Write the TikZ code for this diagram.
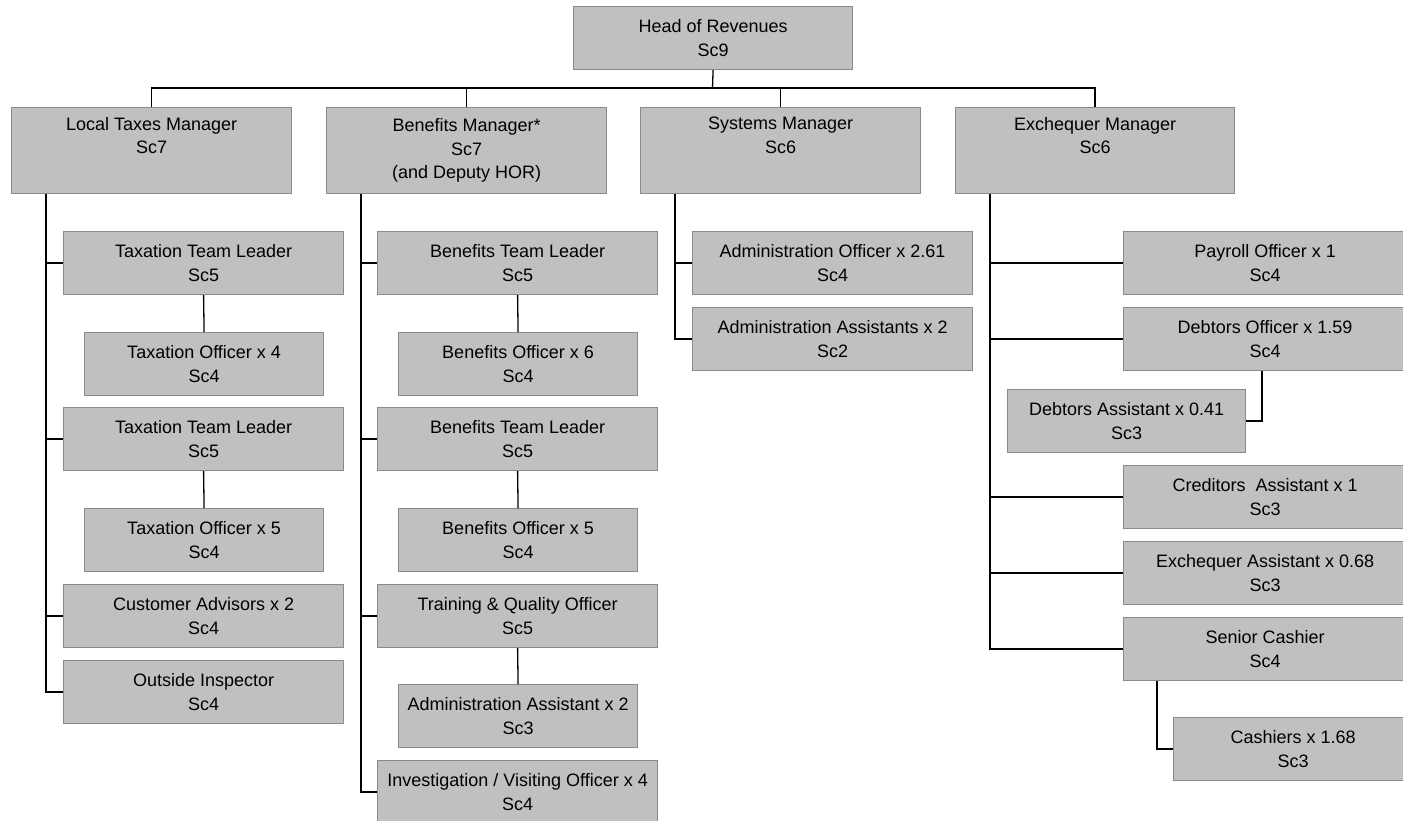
\documentclass[tikz,border=0pt]{standalone}
\usepackage{fontspec}
\setmainfont{Liberation Sans}
\definecolor{boxfill}{HTML}{C0C0C0}
\definecolor{boxline}{HTML}{8A8A8A}
\begin{document}
\begin{tikzpicture}[x=1pt,y=-1pt,
  box/.style={draw=boxline, fill=boxfill, line width=1.2pt, minimum width=280pt, minimum height=63pt,
    inner sep=0pt, align=center, anchor=north west, font=\fontsize{18}{23.5}\selectfont},
  subbox/.style={box, minimum width=239pt},
  edgebox/.style={box, minimum width=283pt},
  mgr/.style={box, minimum height=86pt},
  link/.style={draw=black, line width=1.3pt}]
\useasboundingbox (0,0) rectangle (1403,820);

% top
\node[box, minimum width=279pt] (head) at (573,6) {Head of Revenues\\Sc9};
\node[mgr] (ltm) at (11,107) {Local Taxes Manager\\Sc7\\\strut};
\node[mgr] (bm) at (326,107) {Benefits Manager*\\Sc7\\(and Deputy HOR)};
\node[mgr] (sm) at (640,107) {Systems Manager\\Sc6\\\strut};
\node[mgr, minimum width=279pt] (em) at (955,107) {Exchequer Manager\\Sc6\\\strut};

% local taxes
\node[box] (ttl1) at (63,231) {Taxation Team Leader\\Sc5};
\node[subbox] (to4) at (84,332) {Taxation Officer x 4\\Sc4};
\node[box] (ttl2) at (63,407) {Taxation Team Leader\\Sc5};
\node[subbox] (to5) at (84,508) {Taxation Officer x 5\\Sc4};
\node[box] (ca) at (63,584) {Customer Advisors x 2\\Sc4};
\node[box] (oi) at (63,660) {Outside Inspector\\Sc4};

% benefits
\node[box] (btl1) at (377,231) {Benefits Team Leader\\Sc5};
\node[subbox] (bo6) at (398,332) {Benefits Officer x 6\\Sc4};
\node[box] (btl2) at (377,407) {Benefits Team Leader\\Sc5};
\node[subbox] (bo5) at (398,508) {Benefits Officer x 5\\Sc4};
\node[box] (tq) at (377,584) {Training \& Quality Officer\\Sc5};
\node[subbox] (aa2) at (398,684) {Administration Assistant x 2\\Sc3};
\node[box] (inv) at (377,760) {Investigation / Visiting Officer x 4\\Sc4};

% systems
\node[box] (ao) at (692,231) {Administration Officer x 2.61\\Sc4};
\node[box] (aas) at (692,307) {Administration Assistants x 2\\Sc2};

% exchequer
\node[edgebox] (po) at (1123,231) {Payroll Officer x 1\\Sc4};
\node[edgebox] (do) at (1123,307) {Debtors Officer x 1.59\\Sc4};
\node[subbox, minimum width=238pt] (da) at (1007,389) {Debtors Assistant x 0.41\\Sc3};
\node[edgebox] (crd) at (1123,465) {Creditors\ \ Assistant x 1\\Sc3};
\node[edgebox] (exa) at (1123,541) {Exchequer Assistant x 0.68\\Sc3};
\node[edgebox] (sc) at (1123,617) {Senior Cashier\\Sc4};
\node[subbox] (cash) at (1173,717) {Cashiers x 1.68\\Sc3};

% bus
\coordinate (bus) at (712.5,88);
\draw[link] (head.south) -- (bus);
\foreach \m in {ltm,bm,sm,em} \draw[link] (bus) -| (\m.north);

% trunks
\foreach \c in {ttl1,ttl2,ca,oi} \draw[link] ([xshift=35pt]ltm.south west) |- (\c.west);
\foreach \c in {btl1,btl2,tq,inv} \draw[link] ([xshift=35pt]bm.south west) |- (\c.west);
\foreach \c in {ao,aas} \draw[link] ([xshift=35pt]sm.south west) |- (\c.west);
\foreach \c in {po,do,crd,exa,sc} \draw[link] ([xshift=35pt]em.south west) |- (\c.west);

% sub links
\draw[link] (ttl1.south) -- (to4.north);
\draw[link] (ttl2.south) -- (to5.north);
\draw[link] (btl1.south) -- (bo6.north);
\draw[link] (btl2.south) -- (bo5.north);
\draw[link] (tq.south) -- (aa2.north);
\draw[link] ([xshift=139pt]do.south west) |- (da.east);
\draw[link] ([xshift=34pt]sc.south west) |- (cash.west);
\end{tikzpicture}
\end{document}
